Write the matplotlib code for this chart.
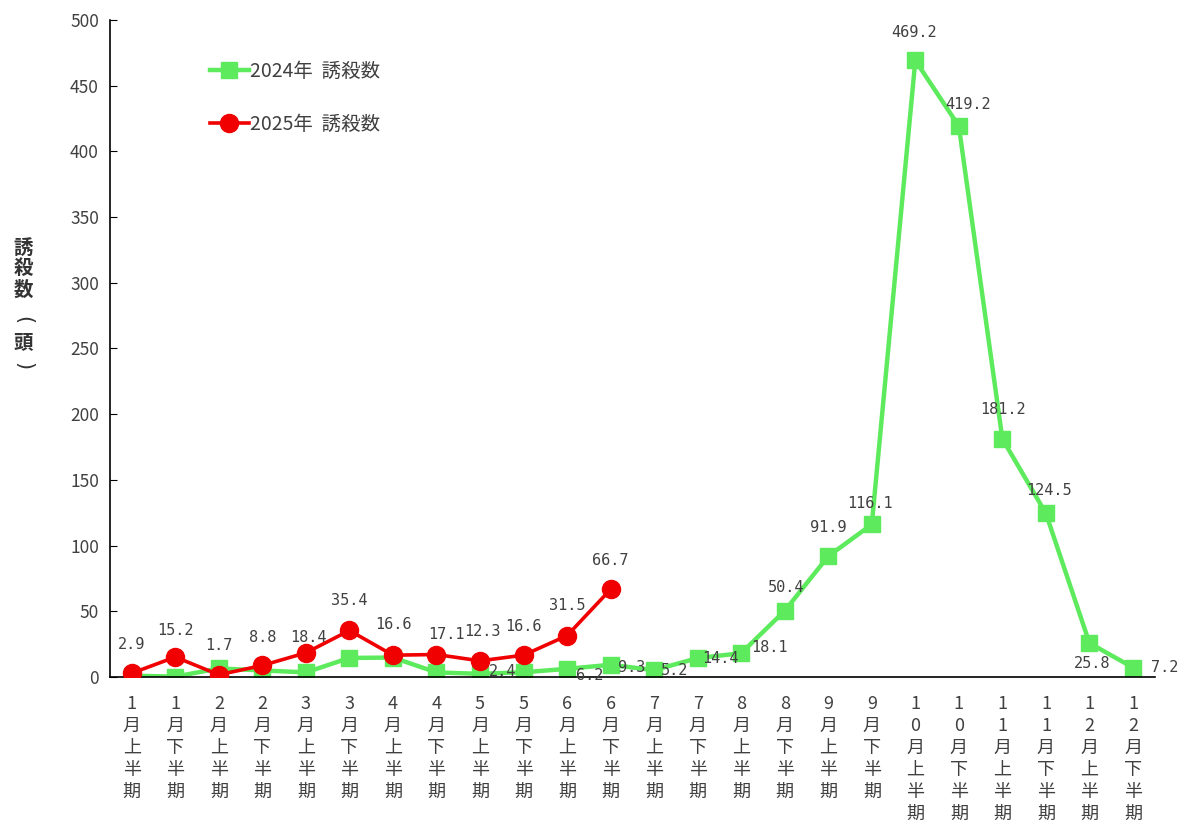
import numpy as np
import matplotlib
matplotlib.use("Agg")
import matplotlib.pyplot as plt

plt.rcParams['font.family'] = ['Noto Sans CJK JP', 'DejaVu Sans']

# half-month periods
months = ['1', '1', '2', '2', '3', '3', '4', '4', '5', '5', '6', '6',
          '7', '7', '8', '8', '9', '9', '10', '10', '11', '11', '12', '12']
halves = ['上', '下'] * 12

catch_2024 = [1.0, 0.3, 6.5, 5.0, 3.5, 14.5, 14.8, 3.5, 2.4, 3.6, 6.2, 9.3,
              5.2, 14.4, 18.1, 50.4, 91.9, 116.1, 469.2, 419.2, 181.2, 124.5, 25.8, 7.2]
catch_2025 = [2.9, 15.2, 1.7, 8.8, 18.4, 35.4, 16.6, 17.1, 12.3, 16.6, 31.5, 66.7]

# only these 2024 points carry a value label (index from 5月上 on)
label_from_2024 = 8

# label offsets in pixels (dx, dy), style only
off_2025 = [(0, 29), (0, 27), (0, 29), (0, 28), (3, 15), (0, 30),
            (0, 31), (10, 20), (2, 29), (0, 29), (0, 30), (0, 29)]
off_2024 = {8: (23, 2), 9: None, 10: (23, -7), 11: (21, -3), 12: (20, 0), 13: (23, 0),
            14: (28, 6), 15: (1, 23), 16: (0, 29), 17: (-2, 21), 18: (-1, 28),
            19: (9, 22), 20: (1, 29), 21: (3, 23), 22: (3, -20), 23: (32, 0)}

green = '#5DEB5D'
red = '#F00000'
txt = '#404040'

tick_labels = ['\n'.join(list(m) + ['月', h, '半', '期']) for m, h in zip(months, halves)]
x = np.arange(len(catch_2024))
x25 = np.arange(len(catch_2025))

fig = plt.figure(figsize=(11.88, 8.25), dpi=100)
ax = fig.add_axes([0.0926, 0.1794, 0.8794, 0.7964])

ax.plot(x, catch_2024, color=green, lw=3.2, marker='s', ms=12, mec=green, mfc=green,
        label='2024年  誘殺数', zorder=2)
ax.plot(x25, catch_2025, color=red, lw=2.6, marker='o', ms=13, mec=red, mfc=red,
        label='2025年  誘殺数', zorder=3)

for i, v in enumerate(catch_2025):
    dx, dy = off_2025[i]
    ax.annotate(f'{v:.1f}', (i, v), xytext=(dx, dy), textcoords='offset pixels',
                ha='center', va='center', fontsize=11, color=txt,
                family='DejaVu Sans Mono', zorder=5)

for i, v in enumerate(catch_2024):
    if i < label_from_2024 or off_2024.get(i) is None:
        continue
    dx, dy = off_2024[i]
    ax.annotate(f'{v:.1f}', (i, v), xytext=(dx, dy), textcoords='offset pixels',
                ha='center', va='center', fontsize=11, color=txt,
                family='DejaVu Sans Mono', zorder=5)

ax.set_xlim(-0.5, len(x) - 0.5)
ax.set_ylim(0, 500)
ax.set_yticks(np.arange(0, 501, 50))
ax.set_xticks(x)
ax.set_xticklabels(tick_labels, fontsize=13, color=txt, va='top', linespacing=1.28)
ax.tick_params(axis='x', length=0, pad=13)
ax.tick_params(axis='y', direction='in', length=5, labelsize=12.5, labelcolor=txt, pad=8)
for s in ['top', 'right']:
    ax.spines[s].set_visible(False)
ax.spines['left'].set_linewidth(1.2)
ax.spines['bottom'].set_linewidth(1.2)

# vertical y-axis title: 誘殺数（頭）
ylab_x = 23 / 1188
fig.text(ylab_x, 1 - 269 / 825, '誘\n殺\n数', fontsize=14, color='#333333', ha='center',
         va='center', linespacing=1.12, fontweight='bold')
fig.text(ylab_x, 1 - 320 / 825, '(', fontsize=15, color='#333333', ha='center',
         va='center', rotation=-90, family='DejaVu Sans')
fig.text(ylab_x, 1 - 343 / 825, '頭', fontsize=14, color='#333333', ha='center',
         va='center', fontweight='bold')
fig.text(ylab_x, 1 - 366 / 825, ')', fontsize=15, color='#333333', ha='center',
         va='center', rotation=-90, family='DejaVu Sans')

leg = ax.legend(loc='upper left', bbox_to_anchor=(0.079, 0.965), frameon=False,
                fontsize=14, handlelength=2.0, handletextpad=0.05, labelspacing=1.65)
for t in leg.get_texts():
    t.set_color(txt)

fig.savefig('out.png', dpi=100)
